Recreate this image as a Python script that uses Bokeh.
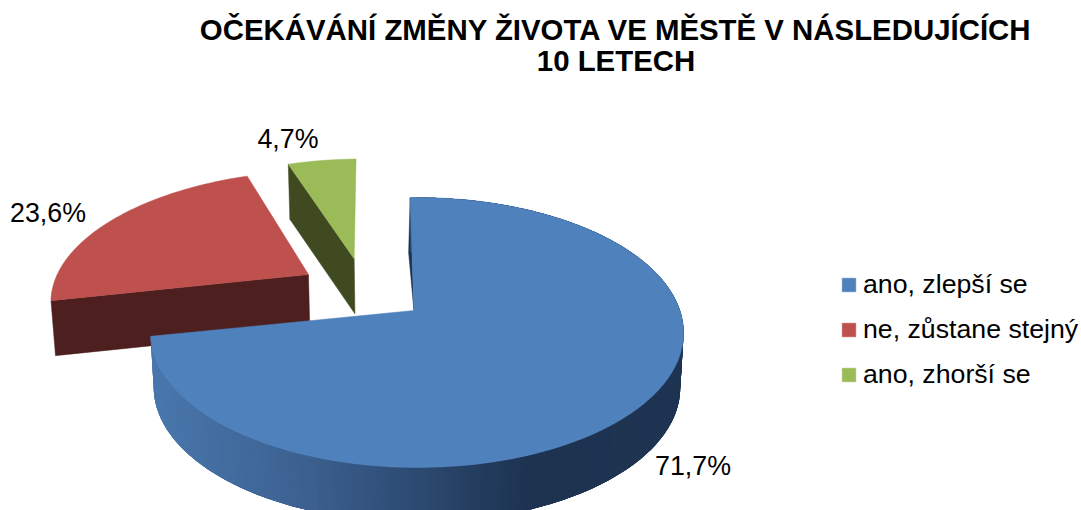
import numpy as np
from bokeh.plotting import figure
from bokeh.models import ColumnDataSource, Legend, LegendItem, Range1d
from bokeh.core.properties import value
from bokeh.embed import file_html
from bokeh.resources import INLINE

title_lines = ["OČEKÁVÁNÍ ZMĚNY ŽIVOTA VE MĚSTĚ V NÁSLEDUJÍCÍCH", "10 LETECH"]
categories = ["ano, zlepší se", "ne, zůstane stejný", "ano, zhorší se"]
shares = [71.7, 23.6, 4.7]
top_colors = ["#4F81BD", "#BE504D", "#9BBB59"]
wall_colors = ["#1D3350", "#4E1F1F", "#3F4A20"]

# ---- projection of the tilted disc into page pixels ----
PX, PY = 413.0, 310.0      # pixel position of plane origin
A, B, K = 263.0, 131.4, 0.163
DEPTH = 55.0
CONV = 0.0125
# small per-slice angular corrections (degrees) at each slice's start and end
ROTS = [(-1.6, 0.9), (-0.3, -3.0), (-3.0, -1.6)]
# explosion offset of each slice in plane units, and apex nudge in px
OFFS = [(0.013, 0.0), (-0.418, 0.287), (-0.241, 0.42)]
APEX_NUDGE = [-3.0, 0.0, 0.0]
FONT = "Liberation Sans"


def project(X, Y):
    w = 1 + K * Y
    return PX + A * X / w, PY - B * Y / w


def lower(x, y):
    return x + (PX - x) * CONV, y + DEPTH


def rim(i, t0, t1, n=120):
    th = np.radians(np.linspace(t0 + ROTS[i][0], t1 + ROTS[i][1], n))
    return project(np.sin(th) + OFFS[i][0], np.cos(th) + OFFS[i][1])


cum = np.cumsum([0] + shares) / sum(shares) * 360.0
apex = []
for i in range(3):
    ax, ay = project(*OFFS[i])
    apex.append((ax + APEX_NUDGE[i], ay))

W, H = 1081, 510
p = figure(width=W, height=H, output_backend="svg", toolbar_location=None,
           x_range=Range1d(0, W), y_range=Range1d(H, 0),
           min_border=0, outline_line_color=None, background_fill_color="white",
           border_fill_color="white")
p.xaxis.visible = False
p.yaxis.visible = False
p.grid.visible = False

# --- green slice (furthest back) ---
gx, gy = rim(2, cum[2], cum[3])
g_lx, g_ly = lower(gx[0], gy[0])
g_ax, g_ay = lower(*apex[2])
p.patch([gx[0], apex[2][0], g_ax, g_lx], [gy[0], apex[2][1], g_ay, g_ly],
        fill_color=wall_colors[2], line_color=wall_colors[2], line_width=0.5)
r_green = p.patch(list(gx) + [apex[2][0]], list(gy) + [apex[2][1]],
                  fill_color=top_colors[2], line_color=top_colors[2], line_width=0.5)

# --- red slice ---
rx, ry = rim(1, cum[1], cum[2])
r_lx, r_ly = lower(rx[0], ry[0])
r_ax, r_ay = lower(*apex[1])
p.patch([rx[0], apex[1][0], r_ax, r_lx], [ry[0], apex[1][1], r_ay, r_ly],
        fill_color=wall_colors[1], line_color=wall_colors[1], line_width=0.5)
r_red = p.patch(list(rx) + [apex[1][0]], list(ry) + [apex[1][1]],
                fill_color=top_colors[1], line_color=top_colors[1], line_width=0.5)

# --- blue slice: inner sliver, shaded outer wall, top ---
bx, by = rim(0, cum[0], cum[1], n=300)
p.patch([bx[0], bx[0] - 1.5, apex[0][0]], [by[0], by[0] + DEPTH, apex[0][1]],
        fill_color=wall_colors[0], line_color=wall_colors[0], line_width=0.5)

stops_x = [150, 300, 400, 530, 690]
stops_rgb = np.array([[74, 120, 174], [61, 98, 146], [47, 78, 118], [29, 51, 80], [31, 53, 83]])
xs, ys, cols = [], [], []
# painted from right to left, each strip overlapping the next one, so no seams show
for j in range(len(bx) - 1):
    k = min(j + 4, len(bx) - 1)
    lxs, lys = lower(bx[j:k + 1], by[j:k + 1])
    xs.append(list(bx[j:k + 1]) + list(lxs[::-1]))
    ys.append(list(by[j:k + 1]) + list(lys[::-1]))
    mid = (bx[j] + bx[j + 1]) / 2
    rgb = [int(np.interp(mid, stops_x, stops_rgb[:, c])) for c in range(3)]
    cols.append("#%02x%02x%02x" % tuple(rgb))
p.patches("xs", "ys", source=ColumnDataSource(dict(xs=xs, ys=ys, c=cols)),
          fill_color="c", line_color=None)
r_blue = p.patch(list(bx) + [apex[0][0]], list(by) + [apex[0][1]],
                 fill_color=top_colors[0], line_color=top_colors[0], line_width=0.5)

# --- title ---
p.text(x=[615.5, 615.5], y=[29, 60], text=title_lines, text_align="center",
       text_baseline="alphabetic", text_font=value(FONT), text_font_style="bold",
       text_font_size="29.4px", text_color="black")

# --- data labels ---
labels = [f"{v:.1f}%".replace(".", ",") for v in shares]
p.text(x=[692.5, 47.5, 287.5], y=[465, 212, 138], text=labels, text_align="center",
       text_baseline="alphabetic", text_font=value(FONT), text_font_size="26.8px",
       text_color="black")

# --- legend ---
legend = Legend(items=[LegendItem(label=c, renderers=[r])
                       for c, r in zip(categories, [r_blue, r_red, r_green])],
                location=(840, 120),
                orientation="vertical", border_line_color=None,
                background_fill_alpha=0, glyph_width=17, glyph_height=17,
                label_text_font=FONT, label_text_font_size="26.7px",
                label_text_color="black", label_standoff=6, spacing=14,
                padding=0, margin=0)
p.add_layout(legend, "center")

open("out.html", "w").write(file_html(p, INLINE))
